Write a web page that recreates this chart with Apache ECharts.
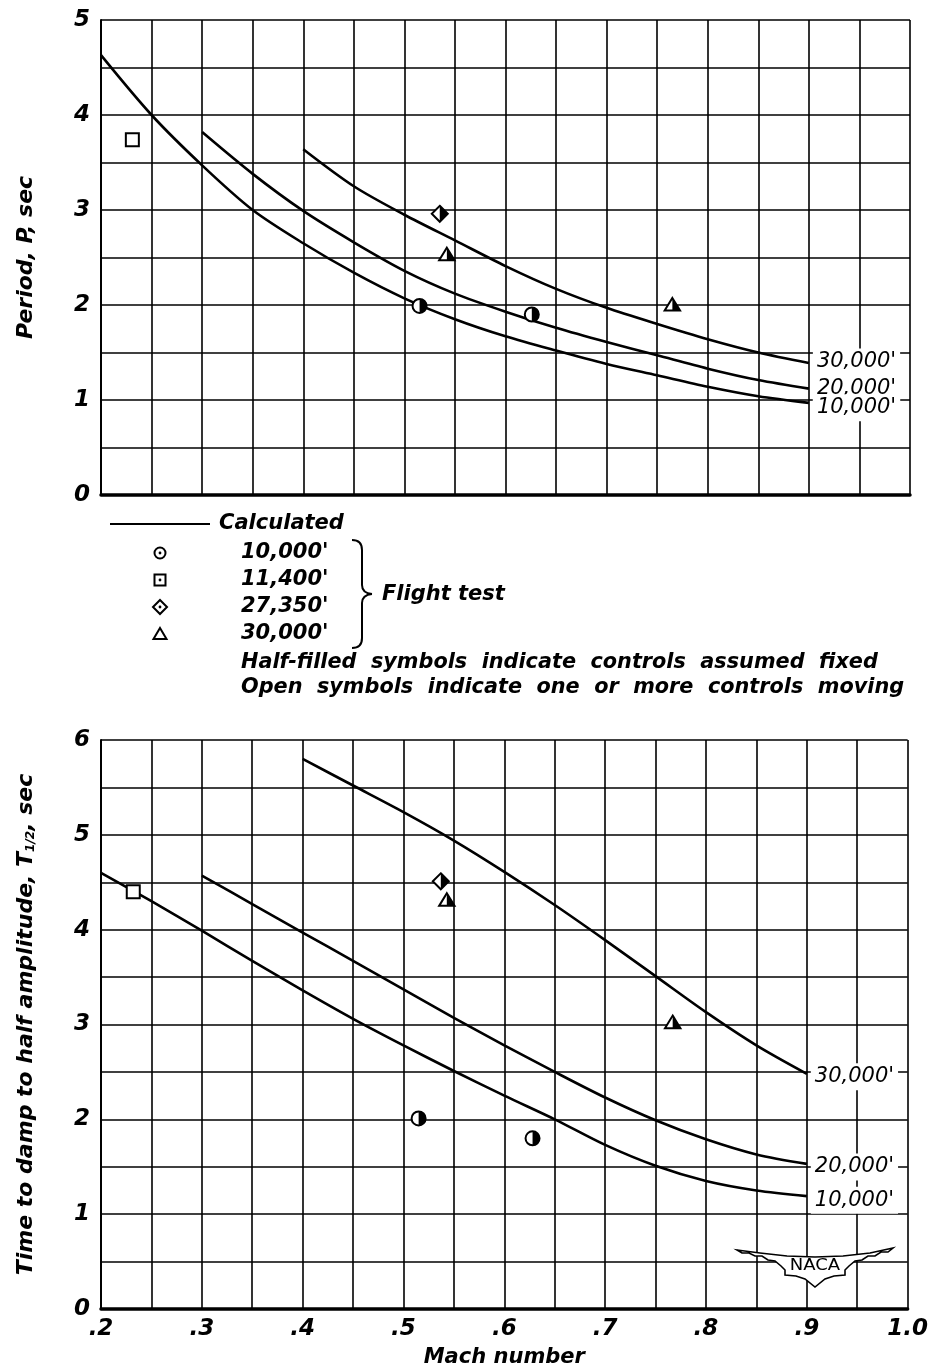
<!DOCTYPE html>
<html><head><meta charset="utf-8">
<script src="https://cdn.jsdelivr.net/npm/echarts@6/dist/echarts.min.js"></script>
<style>html,body{margin:0;padding:0;background:#fff}#c{width:931px;height:1369px}</style>
</head><body><div id="c"></div><script>
// ---------------- DATA ----------------
const MACH = [0.20,0.25,0.30,0.35,0.40,0.45,0.50,0.55,0.60,0.65,0.70,0.75,0.80,0.85,0.90];
const X_TICK_LABELS = ['.2','.3','.4','.5','.6','.7','.8','.9','1.0'];
const ALT_LABELS = ["10,000'","20,000'","30,000'"];

// Calculated period P (sec)
const period10k = [4.63,4.00,3.47,3.00,2.65,2.34,2.07,1.85,1.67,1.52,1.38,1.26,1.14,1.04,0.97];
const period20k = [null,null,3.82,3.38,2.99,2.66,2.36,2.12,1.93,1.76,1.61,1.47,1.33,1.21,1.12];
const period30k = [null,null,null,null,3.64,3.25,2.95,2.68,2.41,2.17,1.97,1.80,1.64,1.50,1.39];

// Calculated time to damp to half amplitude (sec)
const damp10k = [4.60,4.30,3.99,3.67,3.36,3.06,2.78,2.51,2.25,2.00,1.73,1.51,1.35,1.25,1.19];
const damp20k = [null,null,4.57,4.27,3.97,3.67,3.37,3.07,2.78,2.50,2.23,1.99,1.79,1.63,1.53];
const damp30k = [null,null,null,null,5.80,5.52,5.24,4.94,4.61,4.26,3.89,3.51,3.13,2.78,2.48];

// Flight test points [mach, value]
const periodFlight10000 = [[0.515,1.99],[0.626,1.90]];
const periodFlight11400 = [[0.231,3.74]];
const periodFlight27350 = [[0.535,2.96]];
const periodFlight30000 = [[0.542,2.53],[0.765,2.00]];

const dampFlight10000 = [[0.515,2.01],[0.628,1.80]];
const dampFlight11400 = [[0.232,4.40]];
const dampFlight27350 = [[0.537,4.51]];
const dampFlight30000 = [[0.543,4.31],[0.767,3.02]];

// ---------------- CHART ----------------
const FONT = '"DejaVu Sans", sans-serif';
const BI = {fontFamily: FONT, fontWeight: 'bold', fontStyle: 'italic', color: '#000'};
const chart = echarts.init(document.getElementById('c'), null, {renderer: 'canvas'});

function pairs(ys) { return MACH.map((m, i) => [m, ys[i]]).filter(p => p[1] != null); }

function xLabel(v) {
  const k = Math.round(v * 100);
  if (k % 10 !== 0) return '';
  return X_TICK_LABELS[(k - 20) / 10] || '';
}
function yLabel(v) { return Math.abs(v - Math.round(v)) < 1e-9 ? String(Math.round(v)) : ''; }

function xAxis(gi, show) {
  return {
    type: 'value', gridIndex: gi, min: 0.2, max: 1.0, interval: 0.05,
    axisLine: {show: true, onZero: false, lineStyle: {color: '#000', width: 3.5}},
    axisTick: {show: false},
    splitLine: {show: true, lineStyle: {color: '#000', width: 1.6}},
    axisLabel: Object.assign({show: show, formatter: xLabel, fontSize: 23, margin: 9}, BI),
    name: show ? 'Mach number' : '', nameLocation: 'middle', nameGap: 38,
    nameTextStyle: Object.assign({fontSize: 21}, BI)
  };
}
function yAxis(gi, max, name, rich) {
  return {
    type: 'value', gridIndex: gi, min: 0, max: max, interval: 0.5,
    axisLine: {show: true, onZero: false, lineStyle: {color: '#000', width: 2}},
    axisTick: {show: false},
    splitLine: {show: true, lineStyle: {color: '#000', width: 1.6}},
    axisLabel: Object.assign({formatter: yLabel, fontSize: 23, margin: 11}, BI),
    name: name, nameLocation: 'middle', nameGap: 64,
    nameTextStyle: Object.assign({fontSize: 22, rich: rich || {}}, BI)
  };
}

function curve(gi, ys, label, dy) {
  return {
    type: 'line', xAxisIndex: gi, yAxisIndex: gi, data: pairs(ys), smooth: 0.3,
    showSymbol: false, symbol: 'none', z: 3,
    lineStyle: {color: '#000', width: 2.6},
    endLabel: {show: true, formatter: label, fontFamily: FONT, fontStyle: 'italic', fontSize: 21,
      color: '#000', backgroundColor: '#fff', padding: [3, 4, 3, 4], distance: 4, offset: [0, dy]}
  };
}

function markerRender(kind, half) {
  return function (params, api) {
    const c = api.coord([api.value(0), api.value(1)]);
    const x = c[0], y = c[1];
    const st = {fill: '#fff', stroke: '#000', lineWidth: 2};
    const ch = [];
    if (kind === 'circle') {
      const r = 7;
      ch.push({type: 'circle', shape: {cx: x, cy: y, r: r}, style: st});
      if (half) ch.push({type: 'sector', shape: {cx: x, cy: y, r: r, r0: 0, startAngle: -Math.PI / 2, endAngle: Math.PI / 2, clockwise: true}, style: {fill: '#000'}});
    } else if (kind === 'square') {
      const r = 6.5;
      ch.push({type: 'rect', shape: {x: x - r, y: y - r, width: 2 * r, height: 2 * r}, style: st});
      if (half) ch.push({type: 'rect', shape: {x: x, y: y - r, width: r, height: 2 * r}, style: {fill: '#000'}});
    } else if (kind === 'diamond') {
      const h = 8;
      ch.push({type: 'polygon', shape: {points: [[x, y - h], [x + h, y], [x, y + h], [x - h, y]]}, style: st});
      if (half) ch.push({type: 'polygon', shape: {points: [[x, y - h], [x + h, y], [x, y + h]]}, style: {fill: '#000'}});
    } else {
      const h = 7;
      ch.push({type: 'polygon', shape: {points: [[x, y - h], [x + h * 1.1, y + h * 0.8], [x - h * 1.1, y + h * 0.8]]}, style: st});
      if (half) ch.push({type: 'polygon', shape: {points: [[x, y - h], [x + h * 1.1, y + h * 0.8], [x, y + h * 0.8]]}, style: {fill: '#000'}});
    }
    return {type: 'group', children: ch};
  };
}
function markers(gi, data, kind, half) {
  return {type: 'custom', xAxisIndex: gi, yAxisIndex: gi, data: data, clip: false, z: 5,
    renderItem: markerRender(kind, half)};
}

// Legend graphics
const legendY = [553, 580, 607, 634];
const legendKinds = ['circle', 'square', 'diamond', 'triangle'];
const legendTexts = ["10,000'", "11,400'", "27,350'", "30,000'"];
const graphics = [];
const TXT = 'italic bold 21px ' + FONT;
graphics.push({type: 'line', shape: {x1: 110, y1: 524, x2: 210, y2: 524}, style: {stroke: '#000', lineWidth: 2}});
graphics.push({type: 'text', x: 219, y: 524, style: {text: 'Calculated', font: TXT, fill: '#000', verticalAlign: 'middle'}});
legendY.forEach((yy, i) => {
  const x = 160, k = legendKinds[i];
  const st = {fill: '#fff', stroke: '#000', lineWidth: 2};
  if (k === 'circle') graphics.push({type: 'circle', shape: {cx: x, cy: yy, r: 5.5}, style: st});
  if (k === 'square') graphics.push({type: 'rect', shape: {x: x - 5.5, y: yy - 5.5, width: 11, height: 11}, style: st});
  if (k === 'diamond') graphics.push({type: 'polygon', shape: {points: [[x, yy - 7], [x + 7, yy], [x, yy + 7], [x - 7, yy]]}, style: st});
  if (k === 'triangle') graphics.push({type: 'polygon', shape: {points: [[x, yy - 6], [x + 6.5, yy + 5], [x - 6.5, yy + 5]]}, style: st});
  if (k !== 'triangle') graphics.push({type: 'circle', shape: {cx: x, cy: yy, r: 1.4}, style: {fill: '#000'}});
  graphics.push({type: 'text', x: 241, y: yy, style: {text: legendTexts[i], font: TXT, fill: '#000', verticalAlign: 'middle'}});
});
// brace
const BR = {fill: 'none', stroke: '#000', lineWidth: 2};
const bTop = 540, bMid = 594, bBot = 648;
graphics.push({type: 'bezierCurve', shape: {x1: 352, y1: bTop, cpx1: 362, cpy1: bTop, x2: 362, y2: bTop + 10}, style: BR});
graphics.push({type: 'line', shape: {x1: 362, y1: bTop + 10, x2: 362, y2: bMid - 9}, style: BR});
graphics.push({type: 'bezierCurve', shape: {x1: 362, y1: bMid - 9, cpx1: 362, cpy1: bMid - 1, x2: 372, y2: bMid}, style: BR});
graphics.push({type: 'bezierCurve', shape: {x1: 372, y1: bMid, cpx1: 362, cpy1: bMid + 1, x2: 362, y2: bMid + 9}, style: BR});
graphics.push({type: 'line', shape: {x1: 362, y1: bMid + 9, x2: 362, y2: bBot - 10}, style: BR});
graphics.push({type: 'bezierCurve', shape: {x1: 362, y1: bBot - 10, cpx1: 362, cpy1: bBot, x2: 352, y2: bBot}, style: BR});
graphics.push({type: 'text', x: 382, y: bMid + 1, style: {text: 'Flight test', font: TXT, fill: '#000', verticalAlign: 'middle'}});
graphics.push({type: 'text', x: 241, y: 663, scaleX: 0.99, style: {text: 'Half-filled  symbols  indicate  controls  assumed  fixed', font: TXT, fill: '#000', verticalAlign: 'middle'}});
graphics.push({type: 'text', x: 241, y: 688, scaleX: 0.99, style: {text: 'Open  symbols  indicate  one  or  more  controls  moving', font: TXT, fill: '#000', verticalAlign: 'middle'}});

// NACA logo
graphics.push({type: 'polygon', z: 100, shape: {points: [
  [737,1250],[760,1253],[787,1256],[815,1257],[843,1256],[870,1253],[893,1248],
  [888,1252],[881,1252],[875,1256],[868,1256],[862,1260],[855,1261],[849,1266],[845,1270],[845,1275],
  [834,1276],[825,1279],[815,1287],[805,1279],[796,1276],[785,1275],[785,1270],[781,1266],
  [775,1261],[768,1260],[762,1256],[755,1256],[749,1253],[742,1253]]},
  style: {fill: '#fff', stroke: '#000', lineWidth: 1.6}});
graphics.push({type: 'text', z: 102, x: 815, y: 1266, scaleX: 1.2, style: {text: 'NACA', font: '15px ' + FONT, fill: '#000', align: 'center', verticalAlign: 'middle'}});

const option = {
  animation: false,
  backgroundColor: '#fff',
  grid: [
    {left: 101, top: 20, width: 809, height: 475},
    {left: 101, top: 740, width: 809, height: 569}
  ],
  xAxis: [xAxis(0, false), xAxis(1, true)],
  yAxis: [
    yAxis(0, 5, 'Period, P, sec'),
    yAxis(1, 6, 'Time to damp to half amplitude, T{sub|1/2}, sec',
      {sub: {fontSize: 12, fontWeight: 'bold', fontStyle: 'italic', fontFamily: FONT, verticalAlign: 'bottom', color: '#000'}})
  ],
  series: [
    curve(0, period30k, ALT_LABELS[2], -1),
    curve(0, period20k, ALT_LABELS[1], 0),
    curve(0, period10k, ALT_LABELS[0], 5),
    markers(0, periodFlight10000, 'circle', true),
    markers(0, periodFlight11400, 'square', false),
    markers(0, periodFlight27350, 'diamond', true),
    markers(0, periodFlight30000, 'triangle', true),
    curve(1, damp30k, ALT_LABELS[2], 3),
    curve(1, damp20k, ALT_LABELS[1], 3),
    curve(1, damp10k, ALT_LABELS[0], 4),
    markers(1, dampFlight10000, 'circle', true),
    markers(1, dampFlight11400, 'square', false),
    markers(1, dampFlight27350, 'diamond', true),
    markers(1, dampFlight30000, 'triangle', true)
  ],
  graphic: graphics
};
chart.setOption(option);
</script></body></html>
